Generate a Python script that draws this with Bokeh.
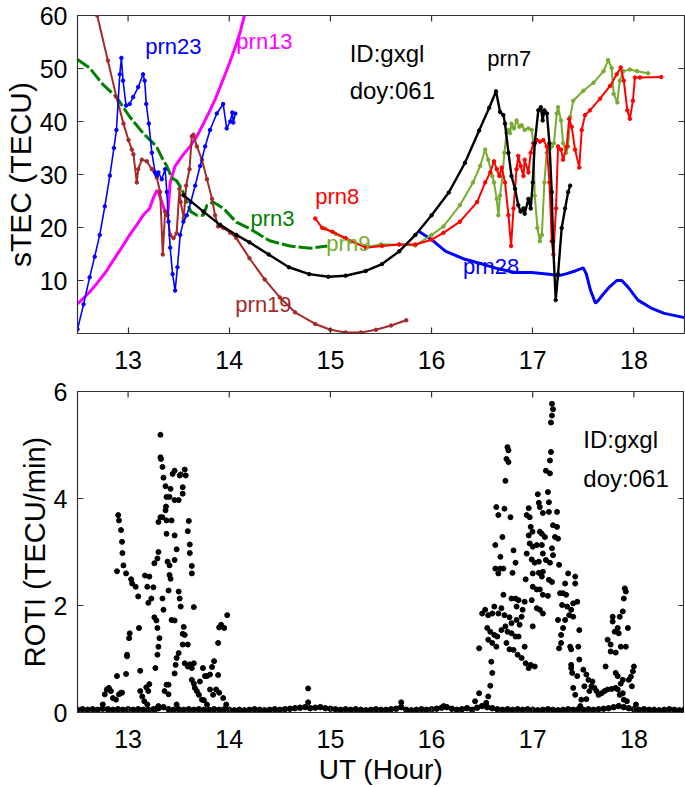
from bokeh.plotting import figure
from bokeh.models import Range1d, FixedTicker
from bokeh.layouts import column
from bokeh.embed import file_html
from bokeh.resources import INLINE
from bokeh.core.properties import value

FONT = "Liberation Sans"

# ---------------- top panel data (sTEC, TECU) ----------------
x19 = [12.695, 12.80, 12.885, 12.955, 13.004, 13.037, 13.053, 13.086, 13.10, 13.136, 13.185, 13.235,
       13.284, 13.317, 13.343, 13.366, 13.39, 13.416, 13.449, 13.48, 13.508, 13.52, 13.55, 13.574,
       13.607, 13.63, 13.646, 13.68, 13.73, 13.78, 13.83, 13.86, 13.89, 13.943, 14.01, 14.07, 14.2,
       14.35, 14.5, 14.65, 14.85, 15.0, 15.15, 15.3, 15.45, 15.6, 15.75]
y19 = [60.0, 51.5, 44.6, 39.6, 36.5, 34.7, 33.8, 28.5, 31.0, 32.8, 32.5, 31.0,
       29.4, 26.7, 14.9, 23.0, 22.3, 18.6, 18.0, 18.9, 27.3, 24.8, 21.7, 27.9,
       31.0, 37.2, 37.5, 35.3, 32.8, 29.1, 25.4, 22.3, 20.2, 19.9, 19.0, 18.0, 14.2,
       10.2, 6.8, 4.0, 1.8, 0.7, 0.2, 0.2, 0.7, 1.5, 2.5]

x23 = [12.5, 12.56, 12.62, 12.67, 12.72, 12.77, 12.82, 12.86, 12.885, 12.918, 12.934, 12.95,
       12.98, 13.016, 13.05, 13.10, 13.148, 13.164, 13.18, 13.205, 13.235, 13.267, 13.284, 13.3,
       13.333, 13.366, 13.383, 13.40, 13.416, 13.44, 13.465, 13.488, 13.515, 13.547, 13.58, 13.62,
       13.663, 13.712, 13.762, 13.81, 13.877, 13.94, 13.975, 14.01, 14.03, 14.04, 14.06]
y23 = [0.8, 5.5, 10.6, 14.5, 18.6, 24.0, 29.8, 35.0, 38.4, 48.9, 52.0, 47.7,
       43.0, 43.3, 44.6, 46.5, 48.9, 47.7, 43.3, 39.6, 34.1, 30.4, 29.8, 30.4,
       29.1, 31.0, 26.7, 21.1, 16.2, 11.2, 8.1, 12.5, 18.6, 21.1, 22.3, 24.8,
       27.9, 31.6, 35.3, 38.4, 41.5, 43.3, 38.7, 40.0, 41.7, 39.8, 41.5]

x13 = [12.5, 12.6, 12.69, 12.78, 12.85, 12.93, 13.016, 13.09, 13.148, 13.213, 13.25, 13.284,
       13.30, 13.333, 13.366, 13.39, 13.40, 13.416, 13.465, 13.547, 13.613, 13.68, 13.745, 13.81,
       13.87, 13.934, 14.0, 14.066, 14.11, 14.15]
y13 = [5.6, 7.4, 9.4, 11.6, 13.7, 16.0, 18.6, 20.6, 22.3, 23.6, 25.6, 27.0,
       26.7, 24.8, 23.0, 22.3, 24.2, 28.5, 31.6, 33.8, 35.3, 37.2, 39.6, 42.1,
       44.6, 47.7, 50.9, 54.4, 57.0, 60.0]

x3 = [12.5, 12.62, 12.75, 12.885, 13.016, 13.148, 13.28, 13.344, 13.383, 13.43, 13.48, 13.53,
      13.58, 13.62, 13.68, 13.745, 13.78, 13.84, 13.943, 14.07, 14.2, 14.4, 14.6, 14.8, 14.97]
y3 = [51.7, 50.1, 47.0, 44.6, 40.9, 37.8, 35.3, 32.8, 31.6, 29.4, 28.8, 27.3,
      24.8, 23.0, 22.3, 22.3, 24.2, 24.8, 23.6, 21.0, 19.8, 17.5, 16.5, 16.1, 16.5]

x7 = [13.547, 13.745, 13.91, 14.07, 14.2, 14.39, 14.59, 14.79, 14.98, 15.15, 15.35, 15.51,
      15.68, 15.84, 16.0, 16.17, 16.33, 16.47, 16.57, 16.637, 16.677, 16.71, 16.726, 16.76,
      16.79, 16.825, 16.857, 16.88, 16.908, 16.92, 16.957, 16.98, 17.0, 17.02, 17.055, 17.08,
      17.098, 17.115, 17.14, 17.165, 17.188, 17.2, 17.227, 17.25, 17.286, 17.32, 17.35, 17.37]
y7 = [26.1, 23.0, 20.5, 18.6, 17.2, 14.9, 12.5, 11.2, 10.7, 10.9, 11.8, 13.1,
      15.5, 18.6, 22.3, 26.6, 32.2, 38.3, 42.6, 45.7, 41.8, 41.2, 39.6, 34.1,
      29.7, 27.3, 24.2, 23.0, 23.6, 22.6, 25.4, 23.6, 28.5, 35.9, 42.1, 42.7,
      40.2, 42.1, 41.5, 35.9, 26.7, 17.4, 6.3, 11.2, 19.9, 23.6, 26.7, 27.9]

x8 = [14.85, 14.92, 15.02, 15.15, 15.35, 15.51, 15.68, 15.84, 16.0, 16.117, 16.28, 16.45,
      16.53, 16.58, 16.617, 16.644, 16.67, 16.693, 16.726, 16.76, 16.786, 16.81, 16.84, 16.857,
      16.88, 16.908, 16.92, 16.957, 16.98, 17.006, 17.04, 17.07, 17.105, 17.138, 17.165, 17.188,
      17.204, 17.23, 17.25, 17.28, 17.3, 17.336, 17.36, 17.385, 17.418, 17.46, 17.484, 17.517,
      17.566, 17.665, 17.764, 17.83, 17.87, 17.9, 17.935, 17.96, 17.99, 18.01, 18.06, 18.27]
y8 = [21.7, 19.9, 19.2, 18.0, 16.2, 16.5, 16.8, 16.8, 17.7, 19.0, 21.1, 24.8,
      28.5, 30.4, 32.5, 31.0, 29.7, 31.3, 28.5, 22.3, 16.5, 23.6, 31.0, 33.5,
      31.6, 29.7, 32.8, 30.4, 34.1, 35.9, 36.5, 36.2, 36.5, 35.3, 28.5, 17.4,
      14.9, 23.6, 35.3, 34.7, 32.8, 35.3, 40.5, 39.0, 34.7, 31.3, 38.4, 41.2,
      42.1, 44.3, 46.7, 48.9, 50.2, 47.7, 42.1, 40.5, 43.9, 48.3, 48.3, 48.4]

x9 = [14.95, 15.05, 15.2, 15.35, 15.5, 15.68, 15.84, 16.0, 16.117, 16.28, 16.41, 16.48,
      16.53, 16.56, 16.6, 16.617, 16.644, 16.66, 16.677, 16.7, 16.72, 16.74, 16.76, 16.776,
      16.79, 16.815, 16.84, 16.868, 16.89, 16.92, 16.957, 16.99, 17.006, 17.02, 17.046, 17.07,
      17.09, 17.115, 17.138, 17.165, 17.188, 17.21, 17.237, 17.25, 17.28, 17.3, 17.33, 17.35,
      17.37, 17.4, 17.5, 17.6, 17.7, 17.745, 17.78, 17.8, 17.836, 17.86, 17.895, 17.96,
      18.03, 18.14]
y9 = [19.8, 18.8, 17.3, 16.3, 16.8, 16.8, 16.6, 18.6, 20.2, 24.2, 28.5, 31.6,
      34.7, 32.8, 29.7, 28.5, 25.4, 22.3, 26.0, 29.7, 34.1, 37.8, 38.4, 37.8,
      39.6, 38.7, 40.2, 39.0, 39.3, 38.4, 38.7, 38.4, 35.9, 26.0, 19.9, 17.4,
      18.6, 28.5, 34.1, 34.7, 35.3, 35.9, 41.5, 42.7, 40.2, 35.9, 34.1, 35.3,
      40.9, 43.9, 45.8, 47.3, 49.5, 51.6, 50.1, 45.2, 43.6, 47.7, 49.5, 49.8,
      49.5, 49.1]

x28 = [15.88, 16.0, 16.14, 16.33, 16.5, 16.66, 16.83, 16.99, 17.16, 17.25, 17.32, 17.42,
       17.5, 17.53, 17.57, 17.62, 17.65, 17.7, 17.76, 17.83, 17.88, 17.94, 18.04, 18.17,
       18.3, 18.5]
y28 = [19.2, 17.7, 15.5, 14.0, 13.1, 12.2, 11.5, 11.5, 11.2, 10.9, 11.2, 11.8,
       12.4, 11.2, 8.2, 5.7, 6.3, 7.5, 8.8, 10.0, 10.0, 8.8, 6.3, 4.8,
       3.8, 3.0]

prn_names = ["prn23", "prn13", "prn3", "prn19", "prn8", "prn9", "prn7", "prn28"]
prn_label_x = [13.17, 14.07, 14.21, 14.06, 14.85, 14.96, 16.55, 16.31]
prn_label_y = [54.2, 55.1, 21.7, 5.5, 25.8, 17.0, 51.9, 12.6]
prn_label_colors = ["#0000ff", "#ff00ff", "#008000", "#a52a2a", "#ff0000", "#77ac30", "#000000", "#0000ff"]

# ---------------- bottom panel data (ROTI, TECU/min) ----------------
roti_base = [0.05, 0.06, 0.05, 0.06, 0.05, 0.07, 0.06, 0.05, 0.06, 0.05, 0.06,
             0.05, 0.06, 0.05, 0.05, 0.06, 0.08, 0.10, 0.06, 0.05, 0.06,
             0.05, 0.06, 0.05, 0.06, 0.05, 0.05, 0.06, 0.05, 0.06, 0.05,
             0.04, 0.05, 0.04, 0.05, 0.06, 0.05, 0.04, 0.05, 0.06, 0.05,
             0.06, 0.07, 0.08, 0.09, 0.10, 0.08, 0.09, 0.10, 0.08, 0.07,
             0.06, 0.05, 0.06, 0.05, 0.06, 0.05, 0.04, 0.05, 0.06, 0.05,
             0.05, 0.06, 0.07, 0.10, 0.05, 0.04, 0.05, 0.06, 0.05, 0.06,
             0.07, 0.09, 0.10, 0.07, 0.05, 0.06, 0.08, 0.05, 0.09, 0.12,
             0.10, 0.08, 0.06, 0.05, 0.06, 0.05, 0.06, 0.05, 0.06, 0.05,
             0.04, 0.05, 0.06, 0.05, 0.04, 0.05, 0.06, 0.05, 0.06, 0.05,
             0.06, 0.05, 0.06, 0.07, 0.08, 0.10, 0.12, 0.10, 0.08, 0.06,
             0.05, 0.06, 0.05, 0.05, 0.04, 0.05, 0.06, 0.05, 0.04, 0.05]
roti_base_t = [round(12.5 + 0.05 * i, 2) for i in range(len(roti_base))]

roti_early = [
    (12.75, 0.15), (12.77, 0.34), (12.79, 0.43), (12.81, 0.46), (12.83, 0.40), (12.85, 0.27),
    (12.88, 0.24), (12.91, 0.34), (12.93, 0.37), (12.94, 0.37), (12.89, 0.68), (12.98, 0.72),
    (13.12, 0.78), (12.99, 1.08), (12.99, 1.05), (13.01, 1.39), (13.016, 1.48), (13.108, 1.58),
    (12.902, 3.69), (12.91, 3.59), (12.93, 3.41), (12.94, 3.19), (12.944, 2.98), (12.954, 2.75),
    (12.89, 2.64), (12.98, 2.60), (13.03, 2.49), (13.04, 2.41), (13.075, 2.35), (13.10, 2.17),
    (13.167, 2.56), (13.19, 2.35), (13.21, 2.54), (13.20, 2.05), (13.23, 2.13), (13.25, 2.34),
    (13.26, 1.78), (13.28, 1.72), (13.29, 1.58), (13.12, 0.40), (13.14, 0.30), (13.16, 0.21),
    (13.19, 0.15), (13.27, 0.06), (13.29, 0.09), (13.30, 0.12), (13.48, 0.15),
]
roti_tower = [
    (13.32, 5.19), (13.32, 4.77), (13.325, 4.74), (13.34, 4.59), (13.35, 4.39), (13.37, 4.23),
    (13.38, 4.03), (13.375, 3.85), (13.37, 3.78), (13.32, 3.65), (13.34, 3.65), (13.38, 3.59),
    (13.43, 3.59), (13.30, 3.56), (13.44, 4.46), (13.46, 4.52), (13.42, 4.18), (13.41, 4.03),
    (13.46, 3.97), (13.50, 3.97), (13.54, 4.09), (13.54, 4.21), (13.52, 4.45), (13.56, 4.54),
    (13.57, 4.43), (13.51, 4.43), (13.60, 3.58), (13.59, 3.39), (13.61, 3.14), (13.61, 2.98),
    (13.63, 2.74), (13.63, 2.60), (13.65, 1.97), (13.38, 3.34), (13.46, 3.31), (13.48, 3.05),
    (13.46, 2.85), (13.39, 2.82), (13.41, 2.75), (13.30, 3.00), (13.29, 2.88), (13.26, 2.79),
    (13.41, 2.57), (13.42, 2.50), (13.40, 2.28), (13.50, 2.26), (13.51, 2.13), (13.52, 1.98),
    (13.34, 2.13), (13.35, 1.92), (13.43, 1.73), (13.46, 1.72), (13.31, 1.39), (13.30, 1.23),
    (13.29, 1.08), (13.27, 0.83), (13.21, 0.53), (13.18, 0.47), (13.20, 0.40), (13.55, 1.60),
    (13.54, 1.47), (13.56, 1.45), (13.54, 1.27), (13.59, 1.27), (13.48, 1.02), (13.50, 1.11),
    (13.47, 0.89), (13.46, 0.73), (13.38, 0.52), (13.40, 0.52), (13.36, 0.40), (13.40, 0.34),
]
roti_tail = [
    (13.56, 0.92), (13.59, 0.86), (13.61, 0.90), (13.63, 0.83), (13.65, 0.92), (13.63, 0.61),
    (13.65, 0.54), (13.66, 0.46), (13.68, 0.40), (13.70, 0.33), (13.73, 0.24), (13.75, 0.23),
    (13.78, 0.15), (13.74, 0.83), (13.76, 0.68), (13.78, 0.68), (13.81, 0.71), (13.83, 0.85),
    (13.85, 0.96), (13.81, 0.43), (13.84, 0.33), (13.87, 0.43), (13.90, 0.37), (13.94, 0.27),
    (13.97, 0.15), (13.89, 1.30), (13.90, 1.59), (13.92, 1.64), (13.95, 1.58), (13.98, 1.82),
    (13.89, 0.70), (13.71, 0.58), (14.78, 0.45), (14.78, 0.19), (15.70, 0.19), (16.12, 0.12),
]
roti_peak = [
    (17.19, 5.77), (17.20, 5.67), (17.19, 5.55), (17.18, 5.42), (17.18, 4.87), (17.17, 4.71),
    (17.13, 4.52), (17.17, 4.47), (17.15, 4.12), (17.16, 3.93), (17.05, 4.08), (17.06, 3.92),
    (17.07, 3.84), (17.10, 3.73), (17.16, 3.75), (17.24, 3.75), (16.96, 3.82), (16.94, 3.69),
    (16.97, 3.65), (16.98, 3.47), (16.997, 3.38), (17.07, 3.38), (17.09, 3.34), (17.12, 3.28),
    (17.20, 3.50), (17.24, 3.47), (17.22, 3.28), (17.25, 3.25), (16.96, 3.31), (16.97, 3.16),
    (17.00, 3.10), (17.04, 3.13), (17.09, 3.13), (17.10, 2.97), (17.19, 3.07), (17.20, 2.94),
    (16.94, 2.97), (16.99, 2.86), (17.02, 2.80), (17.06, 2.82), (17.13, 2.85), (17.17, 2.80),
    (17.26, 2.76), (17.00, 2.60), (17.06, 2.61), (17.09, 2.54), (17.10, 2.63), (17.16, 2.48),
    (17.19, 2.44), (16.93, 2.49), (17.00, 2.35), (17.04, 2.30), (17.07, 2.30), (17.10, 2.20),
    (17.15, 2.18), (16.99, 2.10), (17.04, 1.95), (17.07, 1.92), (17.00, 1.61), (17.10, 1.85),
]
roti_left = [
    (16.75, 4.96), (16.76, 4.90), (16.74, 4.74), (16.76, 4.68), (16.73, 4.33), (16.64, 3.84),
    (16.66, 3.69), (16.72, 3.81), (16.78, 3.65), (16.70, 3.28), (16.63, 3.13), (16.81, 3.03),
    (16.68, 2.91), (16.83, 2.80), (16.63, 2.69), (16.68, 2.69), (16.71, 2.69), (16.66, 2.60),
    (16.80, 2.61), (16.71, 2.20), (16.79, 2.13), (16.83, 2.13), (16.86, 2.10), (16.92, 2.07),
    (16.84, 1.98), (16.90, 1.92), (16.53, 1.92), (16.50, 1.85), (16.62, 1.98), (16.60, 1.85),
    (16.56, 1.82), (16.69, 1.95), (16.66, 1.85), (16.72, 1.82), (16.77, 1.78), (16.79, 1.67),
    (16.84, 1.73), (16.87, 1.64), (16.89, 1.79), (16.55, 1.58), (16.58, 1.51), (16.62, 1.45),
    (16.65, 1.42), (16.69, 1.54), (16.73, 1.61), (16.75, 1.51), (16.79, 1.48), (16.83, 1.42),
    (16.86, 1.42), (16.56, 1.36), (16.60, 1.30), (16.64, 1.23), (16.74, 1.30), (16.77, 1.18),
    (16.81, 1.17), (16.85, 1.08), (16.89, 1.02), (16.92, 1.23), (16.93, 0.92), (16.96, 0.83),
    (16.98, 0.89), (17.02, 0.86), (16.47, 1.20), (16.59, 0.95), (16.60, 0.74), (16.58, 0.50),
    (16.56, 0.30), (16.47, 0.36), (16.43, 0.21), (16.54, 0.18),
]
roti_right = [
    (17.35, 2.60), (17.42, 2.54), (17.42, 2.41), (17.32, 2.41), (17.30, 2.23), (17.33, 2.20),
    (17.27, 2.23), (17.29, 2.01), (17.34, 1.98), (17.38, 1.92), (17.40, 2.04), (17.44, 2.07),
    (17.25, 1.73), (17.32, 1.73), (17.30, 1.58), (17.36, 1.82), (17.40, 1.79), (17.46, 1.54),
    (17.28, 1.45), (17.28, 1.30), (17.26, 1.20), (17.37, 1.23), (17.38, 1.18), (17.45, 1.23),
    (17.38, 0.89), (17.38, 0.83), (17.46, 0.99), (17.39, 0.74), (17.44, 0.68), (17.50, 0.80),
    (17.53, 0.71), (17.55, 0.61), (17.59, 0.58), (17.51, 0.49), (17.56, 0.40), (17.61, 0.46),
    (17.40, 0.46), (17.42, 0.33), (17.48, 0.24), (17.53, 0.25), (17.47, 0.12),
]
roti_late = [
    (17.91, 2.32), (17.92, 2.26), (17.90, 2.13), (17.89, 1.89), (17.86, 1.79), (17.79, 1.79),
    (17.79, 1.70), (17.84, 1.58), (17.85, 1.48), (17.94, 1.58), (17.81, 1.51), (17.74, 1.36),
    (17.77, 1.27), (17.87, 1.23), (17.92, 1.23), (17.77, 1.14), (17.82, 1.12), (17.72, 0.86),
    (18.00, 0.86), (17.99, 0.77), (17.97, 0.67), (17.95, 0.61), (17.98, 0.49), (17.89, 0.36),
    (17.86, 0.33), (17.84, 0.43), (17.82, 0.46), (17.78, 0.44), (17.74, 0.43), (17.71, 0.40),
    (17.68, 0.36), (17.65, 0.33), (17.63, 0.40), (17.58, 0.49), (17.89, 0.61), (17.84, 0.68),
    (17.82, 0.74), (17.87, 0.54), (18.02, 0.15), (17.90, 0.24), (17.93, 0.21),
]

x_ticks = [13, 14, 15, 16, 17, 18]
top_y_ticks = [10, 20, 30, 40, 50, 60]
bot_y_ticks = [0, 2, 4, 6]
station_text = ["ID:gxgl", "doy:061"]

AX = "#333333"
TICK_PX = 6
FRAME_W = 607
X0, X1 = 12.5, 18.5


def style(p, yticks, y0, y1, frame_h, ylabel, ylabel_size, xlabel=None):
    p.xgrid.visible = False
    p.ygrid.visible = False
    p.outline_line_color = AX
    p.outline_line_width = 1.2
    p.background_fill_color = "white"
    p.border_fill_color = "white"
    p.xaxis.ticker = FixedTicker(ticks=x_ticks)
    p.yaxis.ticker = FixedTicker(ticks=yticks)
    for ax in list(p.xaxis) + list(p.yaxis):
        ax.major_tick_in = TICK_PX
        ax.major_tick_out = 0
        ax.minor_tick_line_color = None
        ax.axis_line_color = AX
        ax.major_tick_line_color = AX
        ax.major_tick_line_width = 1.2
        ax.major_label_text_font = FONT
        ax.major_label_text_font_size = "25px"
        ax.major_label_text_color = "black"
        ax.axis_label_text_font = FONT
        ax.axis_label_text_font_style = "normal"
        ax.axis_label_text_color = "black"
        ax.axis_label_standoff = 0
    p.xaxis.major_label_standoff = 17
    p.yaxis.major_label_standoff = 10
    p.yaxis.axis_label = ylabel
    p.yaxis.axis_label_text_font_size = ylabel_size
    if xlabel:
        p.xaxis.axis_label = xlabel
        p.xaxis.axis_label_text_font_size = "28px"
        p.xaxis.axis_label_standoff = 3
    # inward ticks on the top and right frame edges
    dy = TICK_PX * (y1 - y0) / frame_h
    dx = TICK_PX * (X1 - X0) / FRAME_W
    p.segment(x0=x_ticks, y0=[y1] * len(x_ticks), x1=x_ticks, y1=[y1 - dy] * len(x_ticks),
              line_color=AX, line_width=1.2)
    p.segment(x0=[X1] * len(yticks), y0=yticks, x1=[X1 - dx] * len(yticks), y1=yticks,
              line_color=AX, line_width=1.2)


FH1 = 318
p1 = figure(frame_width=FRAME_W, frame_height=FH1, output_backend="svg", toolbar_location=None,
            x_range=Range1d(X0, X1), y_range=Range1d(0, 60),
            min_border_left=74, min_border_right=3, min_border_top=15, min_border_bottom=44)
style(p1, top_y_ticks, 0, 60, FH1, "sTEC (TECU)", "30px")

# smooth / thick curves
p1.line(x13, y13, color="#ff00ff", line_width=3)
p1.line(x3, y3, color="#008000", line_width=3, line_dash="14 3")
p1.line(x28, y28, color="#0000ff", line_width=3)
# jagged curves with sample dots
for xs, ys, col, lw in [(x19, y19, "#a52a2a", 2), (x23, y23, "#0000ff", 1.6),
                        (x9, y9, "#77ac30", 2), (x8, y8, "#ff0000", 2), (x7, y7, "#000000", 2.4)]:
    p1.line(xs, ys, color=col, line_width=lw)
    p1.scatter(xs, ys, color=col, size=3.5, marker="circle")

p1.text(x=prn_label_x, y=prn_label_y, text=prn_names, text_color=prn_label_colors,
        text_font=value(FONT), text_font_size=value("22px"),
        text_align="left", text_baseline="middle")
p1.text(x=[15.19, 15.19], y=[52.8, 45.8], text=station_text, text_color="black",
        text_font=value(FONT), text_font_size=value("24px"),
        text_align="left", text_baseline="middle")

FH2 = 321
p2 = figure(frame_width=FRAME_W, frame_height=FH2, output_backend="svg", toolbar_location=None,
            x_range=Range1d(X0, X1), y_range=Range1d(0, 6),
            min_border_left=74, min_border_right=3, min_border_top=14, min_border_bottom=73)
style(p2, bot_y_ticks, 0, 6, FH2, "ROTI (TECU/min)", "29px", "UT (Hour)")

p2.scatter(roti_base_t, roti_base, color="black", size=5.5, marker="circle")
for grp in [roti_early, roti_tower, roti_tail, roti_peak, roti_left, roti_right, roti_late]:
    p2.scatter([g[0] for g in grp], [g[1] for g in grp], color="black", size=5, marker="circle")

p2.text(x=[17.5, 17.5], y=[5.1, 4.38], text=station_text, text_color="black",
        text_font=value(FONT), text_font_size=value("24px"),
        text_align="left", text_baseline="middle")

layout = column(p1, p2)
open("out.html", "w").write(file_html(layout, INLINE))
